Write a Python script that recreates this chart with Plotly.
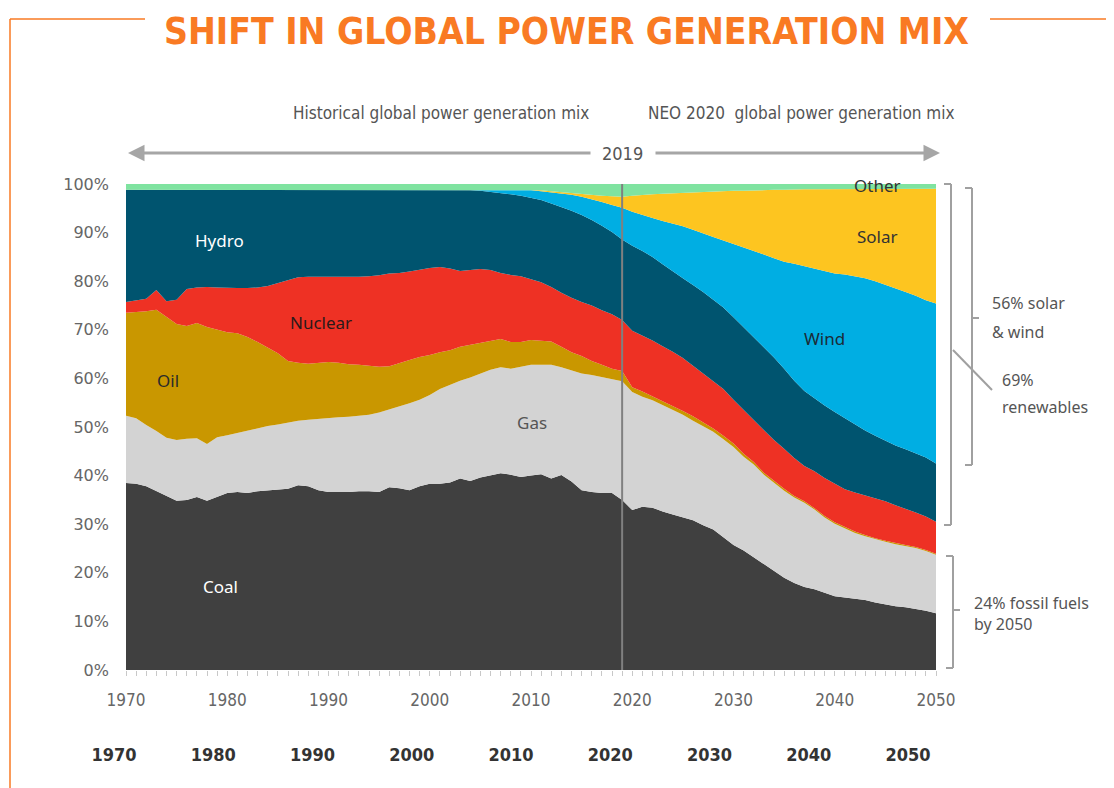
import plotly.graph_objects as go

# ---------------- data (share of global power generation, %) ----------------
years = list(range(1970, 2051))

coal = [38.5, 38.3, 37.8, 36.8, 35.8, 34.8, 35.0, 35.6, 34.8, 35.6,
        36.4, 36.6, 36.4, 36.8, 37.0, 37.2, 37.3, 38.0, 37.8, 37.0,
        36.6, 36.6, 36.6, 36.8, 36.8, 36.6, 37.6, 37.4, 37.0, 37.8,
        38.3, 38.3, 38.6, 39.4, 38.9, 39.6, 40.1, 40.5, 40.2, 39.7,
        40.0, 40.3, 39.4, 40.1, 38.8, 37.0, 36.6, 36.4, 36.4, 35.0,
        32.9, 33.6, 33.4, 32.6, 32.0, 31.4, 30.8, 29.8, 28.9, 27.3,
        25.7, 24.6, 23.2, 21.8, 20.4, 19.0, 17.9, 17.1, 16.6, 15.9,
        15.2, 14.9, 14.6, 14.4, 13.9, 13.5, 13.1, 12.9, 12.6, 12.2,
        11.7]

gas = [13.8, 13.5, 12.6, 12.4, 12.0, 12.5, 12.6, 12.1, 11.7, 12.3,
       11.9, 12.2, 12.8, 13.0, 13.2, 13.3, 13.6, 13.3, 13.7, 14.7,
       15.3, 15.4, 15.5, 15.5, 15.7, 16.4, 16.0, 16.8, 17.9, 17.8,
       18.3, 19.5, 20.1, 20.1, 21.3, 21.4, 21.7, 21.8, 21.8, 22.7,
       22.8, 22.5, 23.4, 22.2, 22.8, 24.0, 24.1, 23.9, 23.5, 24.4,
       24.3, 22.6, 22.1, 21.9, 21.6, 21.1, 20.5, 20.4, 20.1, 20.2,
       20.2, 19.3, 19.1, 18.4, 18.1, 17.9, 17.6, 17.3, 16.4, 15.5,
       14.9, 14.2, 13.6, 13.1, 13.0, 12.9, 12.8, 12.6, 12.5, 12.3,
       12.0]

oil = [21.2, 21.8, 23.4, 24.9, 24.8, 23.9, 23.2, 23.7, 24.1, 22.1,
       21.2, 20.5, 19.3, 17.7, 16.1, 14.7, 12.7, 11.9, 11.5, 11.5,
       11.5, 11.2, 10.8, 10.5, 10.1, 9.4, 8.9, 9.0, 8.9, 8.8,
       8.2, 7.6, 7.1, 7.0, 6.7, 6.2, 5.8, 5.8, 5.5, 5.1,
       5.1, 5.0, 4.8, 4.2, 3.8, 3.6, 2.9, 2.5, 2.1, 2.1,
       1.0, 1.1, 0.8, 0.9, 0.8, 0.8, 0.9, 0.8, 0.7, 0.7,
       0.7, 0.6, 0.5, 0.4, 0.4, 0.4, 0.3, 0.3, 0.3, 0.3,
       0.3, 0.3, 0.3, 0.3, 0.2, 0.2, 0.2, 0.2, 0.2, 0.2,
       0.2]

nuclear = [2.2, 2.4, 2.6, 4.1, 3.3, 5.0, 7.6, 7.3, 8.2, 8.7,
           9.1, 9.3, 10.1, 11.2, 12.7, 14.4, 16.6, 17.6, 17.9, 17.7,
           17.5, 17.7, 17.9, 18.1, 18.4, 18.8, 19.1, 18.5, 18.2, 18.0,
           17.9, 17.5, 16.8, 15.6, 15.4, 15.3, 14.7, 13.6, 13.8, 13.5,
           12.5, 12.0, 11.2, 11.1, 11.2, 11.1, 11.4, 11.2, 11.2, 10.5,
           11.6, 11.5, 11.5, 11.2, 11.1, 10.9, 10.4, 10.0, 9.8, 9.6,
           9.0, 9.0, 8.6, 8.6, 8.4, 8.2, 7.8, 7.3, 7.6, 7.8,
           7.9, 7.8, 8.0, 8.1, 8.2, 8.1, 7.8, 7.5, 7.1, 6.9,
           6.6]

hydro = [23.1, 22.8, 22.4, 20.6, 22.9, 22.6, 20.4, 20.1, 20.0, 20.1,
         20.2, 20.2, 20.2, 20.1, 19.8, 19.2, 18.6, 18.0, 17.9, 17.9,
         17.9, 17.9, 18.0, 17.9, 17.8, 17.6, 17.2, 17.1, 16.8, 16.4,
         16.1, 15.9, 16.2, 16.7, 16.4, 16.1, 16.1, 16.5, 16.6, 16.6,
         16.8, 16.9, 17.2, 17.7, 17.9, 17.9, 17.6, 17.4, 16.9, 16.6,
         17.5, 17.4, 17.2, 16.9, 16.5, 16.4, 16.6, 16.8, 16.7, 16.8,
         17.0, 17.0, 17.2, 17.3, 17.0, 16.5, 15.9, 15.4, 15.0, 14.9,
         14.8, 14.6, 14.0, 13.4, 12.9, 12.5, 12.3, 12.2, 12.2, 12.1,
         12.0]

wind = [0, 0, 0, 0, 0, 0, 0, 0, 0, 0,
        0, 0, 0, 0, 0, 0, 0, 0, 0, 0,
        0, 0, 0, 0, 0, 0, 0, 0, 0, 0,
        0, 0, 0, 0, 0.1, 0.2, 0.4, 0.6, 0.9, 1.2,
        1.5, 1.8, 2.3, 2.7, 3.3, 3.8, 4.3, 4.9, 5.6, 6.5,
        7.0, 7.4, 8.0, 8.9, 9.9, 10.7, 11.4, 12.0, 12.9, 13.8,
        15.1, 16.5, 17.7, 19.0, 20.4, 22.0, 24.1, 25.7, 26.6, 27.6,
        28.5, 29.6, 30.5, 31.3, 31.8, 32.1, 32.3, 32.4, 32.4, 32.4,
        32.9]

solar = [0, 0, 0, 0, 0, 0, 0, 0, 0, 0,
         0, 0, 0, 0, 0, 0, 0, 0, 0, 0,
         0, 0, 0, 0, 0, 0, 0, 0, 0, 0,
         0, 0, 0, 0, 0, 0, 0, 0, 0, 0,
         0.1, 0.2, 0.2, 0.3, 0.3, 0.5, 0.8, 1.3, 1.8, 2.3,
         3.3, 4.2, 4.9, 5.6, 6.2, 6.9, 7.7, 8.6, 9.3, 10.1,
         10.9, 11.6, 12.4, 13.2, 14.1, 14.8, 15.3, 15.8, 16.4, 16.9,
         17.3, 17.5, 18.0, 18.4, 19.0, 19.7, 20.5, 21.2, 22.0, 22.9,
         23.6]

other = [1.2, 1.2, 1.2, 1.2, 1.2, 1.2, 1.2, 1.2, 1.2, 1.2,
         1.2, 1.2, 1.2, 1.2, 1.2, 1.2, 1.2, 1.2, 1.2, 1.2,
         1.2, 1.2, 1.2, 1.2, 1.2, 1.2, 1.2, 1.2, 1.2, 1.2,
         1.2, 1.2, 1.2, 1.2, 1.2, 1.2, 1.2, 1.2, 1.2, 1.2,
         1.2, 1.3, 1.5, 1.7, 1.9, 2.1, 2.3, 2.4, 2.5, 2.6,
         2.4, 2.2, 2.1, 2.0, 1.9, 1.8, 1.7, 1.6, 1.6, 1.5,
         1.4, 1.4, 1.3, 1.3, 1.2, 1.2, 1.1, 1.1, 1.1, 1.1,
         1.1, 1.1, 1.0, 1.0, 1.0, 1.0, 1.0, 1.0, 1.0, 1.0,
         1.0]

source_names = ["Coal", "Gas", "Oil", "Nuclear", "Hydro", "Wind", "Solar", "Other"]
source_values = [coal, gas, oil, nuclear, hydro, wind, solar, other]
source_colors = ["#404040", "#d3d3d3", "#c99700", "#ee3124", "#00546f", "#00aee3", "#fdc520", "#7fe3a0"]

tick_years = [1970, 1980, 1990, 2000, 2010, 2020, 2030, 2040, 2050]
tick_year_text = ["1970", "1980", "1990", "2000", "2010", "2020", "2030", "2040", "2050"]
pct_ticks = [0, 10, 20, 30, 40, 50, 60, 70, 80, 90, 100]
pct_text = ["0%", "10%", "20%", "30%", "40%", "50%", "60%", "70%", "80%", "90%", "100%"]
split_year = 2019

# ---------------- layout geometry (page pixels -> paper fractions) ----------------
OFF = 8                      # default page margin of the html body
W, H = 1114 - OFF, 788 - OFF
ML, MR, MT, MB = 52, 20, 52, 20
PW, PH = W - ML - MR, H - MT - MB


def fx(px):
    return (px - OFF - ML) / PW


def fy(py):
    return (H - MB - (py - OFF)) / PH


NARROW = "DejaVu Sans Condensed, Liberation Sans Narrow, sans-serif"
ROUND = "DejaVu Sans, sans-serif"
LABEL = "Noto Sans, Open Sans, sans-serif"
ORANGE = "#f97a23"
GREY_TXT = "#555555"
GREY_LINE = "#a0a0a0"

fig = go.Figure()
for name, vals, col in zip(source_names, source_values, source_colors):
    fig.add_trace(go.Scatter(
        x=years, y=vals, name=name, stackgroup="mix", mode="lines",
        line=dict(width=0, color=col), fillcolor=col, hoverinfo="x+y+name",
    ))

# second (bold) year axis row
fig.add_trace(go.Scatter(x=tick_years, y=[None] * len(tick_years), xaxis="x2", yaxis="y",
                         mode="markers", showlegend=False, hoverinfo="skip"))

fig.update_layout(
    template="none",
    width=W, height=H, showlegend=False, autosize=False,
    margin=dict(l=ML, r=MR, t=MT, b=MB, autoexpand=False),
    paper_bgcolor="white", plot_bgcolor="rgba(0,0,0,0)",
    xaxis=dict(domain=[fx(126), fx(936)], range=[1970, 2050], showgrid=False, zeroline=False,
               automargin=False,
               tickvals=tick_years, ticktext=tick_year_text,
               ticks="outside", ticklen=5, tickcolor="#c8c8c8", ticklabelstandoff=10,
               minor=dict(dtick=1, tick0=1970, ticks="outside", ticklen=5, tickcolor="#c8c8c8"),
               tickfont=dict(family="Liberation Sans Narrow, DejaVu Sans Condensed, sans-serif",
                             size=17, color="#666666"), showline=False),
    xaxis2=dict(domain=[fx(114), fx(908)], range=[1970, 2050], anchor="free", position=fy(742),
                automargin=False,
                showgrid=False, zeroline=False, showline=False, ticks="",
                tickvals=tick_years, ticktext=tick_year_text,
                tickfont=dict(family=NARROW, size=18, color="#333333", weight="bold")),
    yaxis=dict(domain=[fy(670), fy(184)], range=[0, 100], showgrid=False, zeroline=False,
               automargin=False,
               tickvals=pct_ticks, ticktext=pct_text, ticks="", ticklabelstandoff=16,
               tickfont=dict(family=ROUND, size=16, color="#666666"), showline=False),
)

shapes = []
# orange frame
shapes.append(dict(type="line", xref="paper", yref="paper", x0=fx(10), x1=fx(145), y0=fy(19), y1=fy(19),
                   line=dict(color=ORANGE, width=1.5)))
shapes.append(dict(type="line", xref="paper", yref="paper", x0=fx(990), x1=fx(1114), y0=fy(19), y1=fy(19),
                   line=dict(color=ORANGE, width=1.5)))
shapes.append(dict(type="line", xref="paper", yref="paper", x0=fx(10), x1=fx(10), y0=fy(19), y1=fy(788),
                   line=dict(color=ORANGE, width=1.5)))
# 2019 divider
shapes.append(dict(type="line", xref="x", yref="y", x0=split_year, x1=split_year, y0=0, y1=100,
                   line=dict(color="#808080", width=2)))


def bracket(xv, ytop, ybot, ymid, left=7, mid=7, midline=True):
    out = [
        dict(type="line", xref="paper", yref="paper", x0=fx(xv), x1=fx(xv), y0=fy(ytop), y1=fy(ybot)),
        dict(type="line", xref="paper", yref="paper", x0=fx(xv - left), x1=fx(xv), y0=fy(ytop), y1=fy(ytop)),
        dict(type="line", xref="paper", yref="paper", x0=fx(xv - left), x1=fx(xv), y0=fy(ybot), y1=fy(ybot)),
    ]
    if midline:
        out.append(dict(type="line", xref="paper", yref="paper", x0=fx(xv), x1=fx(xv + mid),
                        y0=fy(ymid), y1=fy(ymid)))
    for s in out:
        s["line"] = dict(color=GREY_LINE, width=2)
    return out


shapes += bracket(951, 184, 525, 352, midline=False)
shapes += bracket(972, 188, 465, 318)
shapes += bracket(953, 556, 668, 610)
shapes.append(dict(type="line", xref="paper", yref="paper", x0=fx(953), x1=fx(992), y0=fy(350), y1=fy(390),
                   line=dict(color=GREY_LINE, width=2)))

ann = []


def note(text, px, py, font, xanchor="center", yanchor="middle"):
    ann.append(dict(xref="paper", yref="paper", x=fx(px), y=fy(py), text=text, showarrow=False,
                    xanchor=xanchor, yanchor=yanchor, font=font))


note("<b>SHIFT IN GLOBAL POWER GENERATION MIX</b>", 566, 8, dict(family=NARROW, size=37, color=ORANGE),
     yanchor="top")
note("Historical global power generation mix", 441, 113, dict(family=NARROW, size=17, color=GREY_TXT))
note("NEO 2020  global power generation mix", 801, 113, dict(family=NARROW, size=17, color=GREY_TXT))
note("2019", 622, 153, dict(family=NARROW, size=18, color=GREY_TXT))

# arrows
ann.append(dict(xref="paper", yref="paper", x=fx(128), y=fy(153), ax=464, ay=0, text="", showarrow=True,
                arrowhead=2, arrowsize=1.1, arrowwidth=3, arrowcolor="#a6a6a6"))
ann.append(dict(xref="paper", yref="paper", x=fx(940), y=fy(153), ax=-286, ay=0, text="", showarrow=True,
                arrowhead=2, arrowsize=1.1, arrowwidth=3, arrowcolor="#a6a6a6"))

# in-chart labels
labels = [("Hydro", 1979.2, 88.3, "white"), ("Nuclear", 1989.3, 71.5, "#2b1a1a"),
          ("Oil", 1974.1, 59.5, "#2b2b2b"), ("Gas", 2010.1, 50.9, "#555555"),
          ("Coal", 1979.3, 17.2, "white"), ("Wind", 2039.0, 68.2, "#1c2b36"),
          ("Solar", 2044.2, 89.3, "#333333"), ("Other", 2044.2, 99.6, "#333333")]
for t, xv, yv, c in labels:
    ann.append(dict(xref="x", yref="y", x=xv, y=yv, text=t, showarrow=False,
                    xanchor="center", yanchor="middle",
                    font=dict(family=LABEL, size=17, color=c)))

# bracket notes
side_font = dict(family=LABEL, size=16, color=GREY_TXT)
for t, px, py in [("56% solar", 990, 303), ("&amp; wind", 990, 332), ("69%", 1000, 380),
                  ("renewables", 1000, 407), ("24% fossil fuels", 972, 603), ("by 2050", 972, 624)]:
    note(t, px, py, side_font, xanchor="left")

fig.update_layout(shapes=shapes, annotations=ann)
fig.write_html("out.html")
